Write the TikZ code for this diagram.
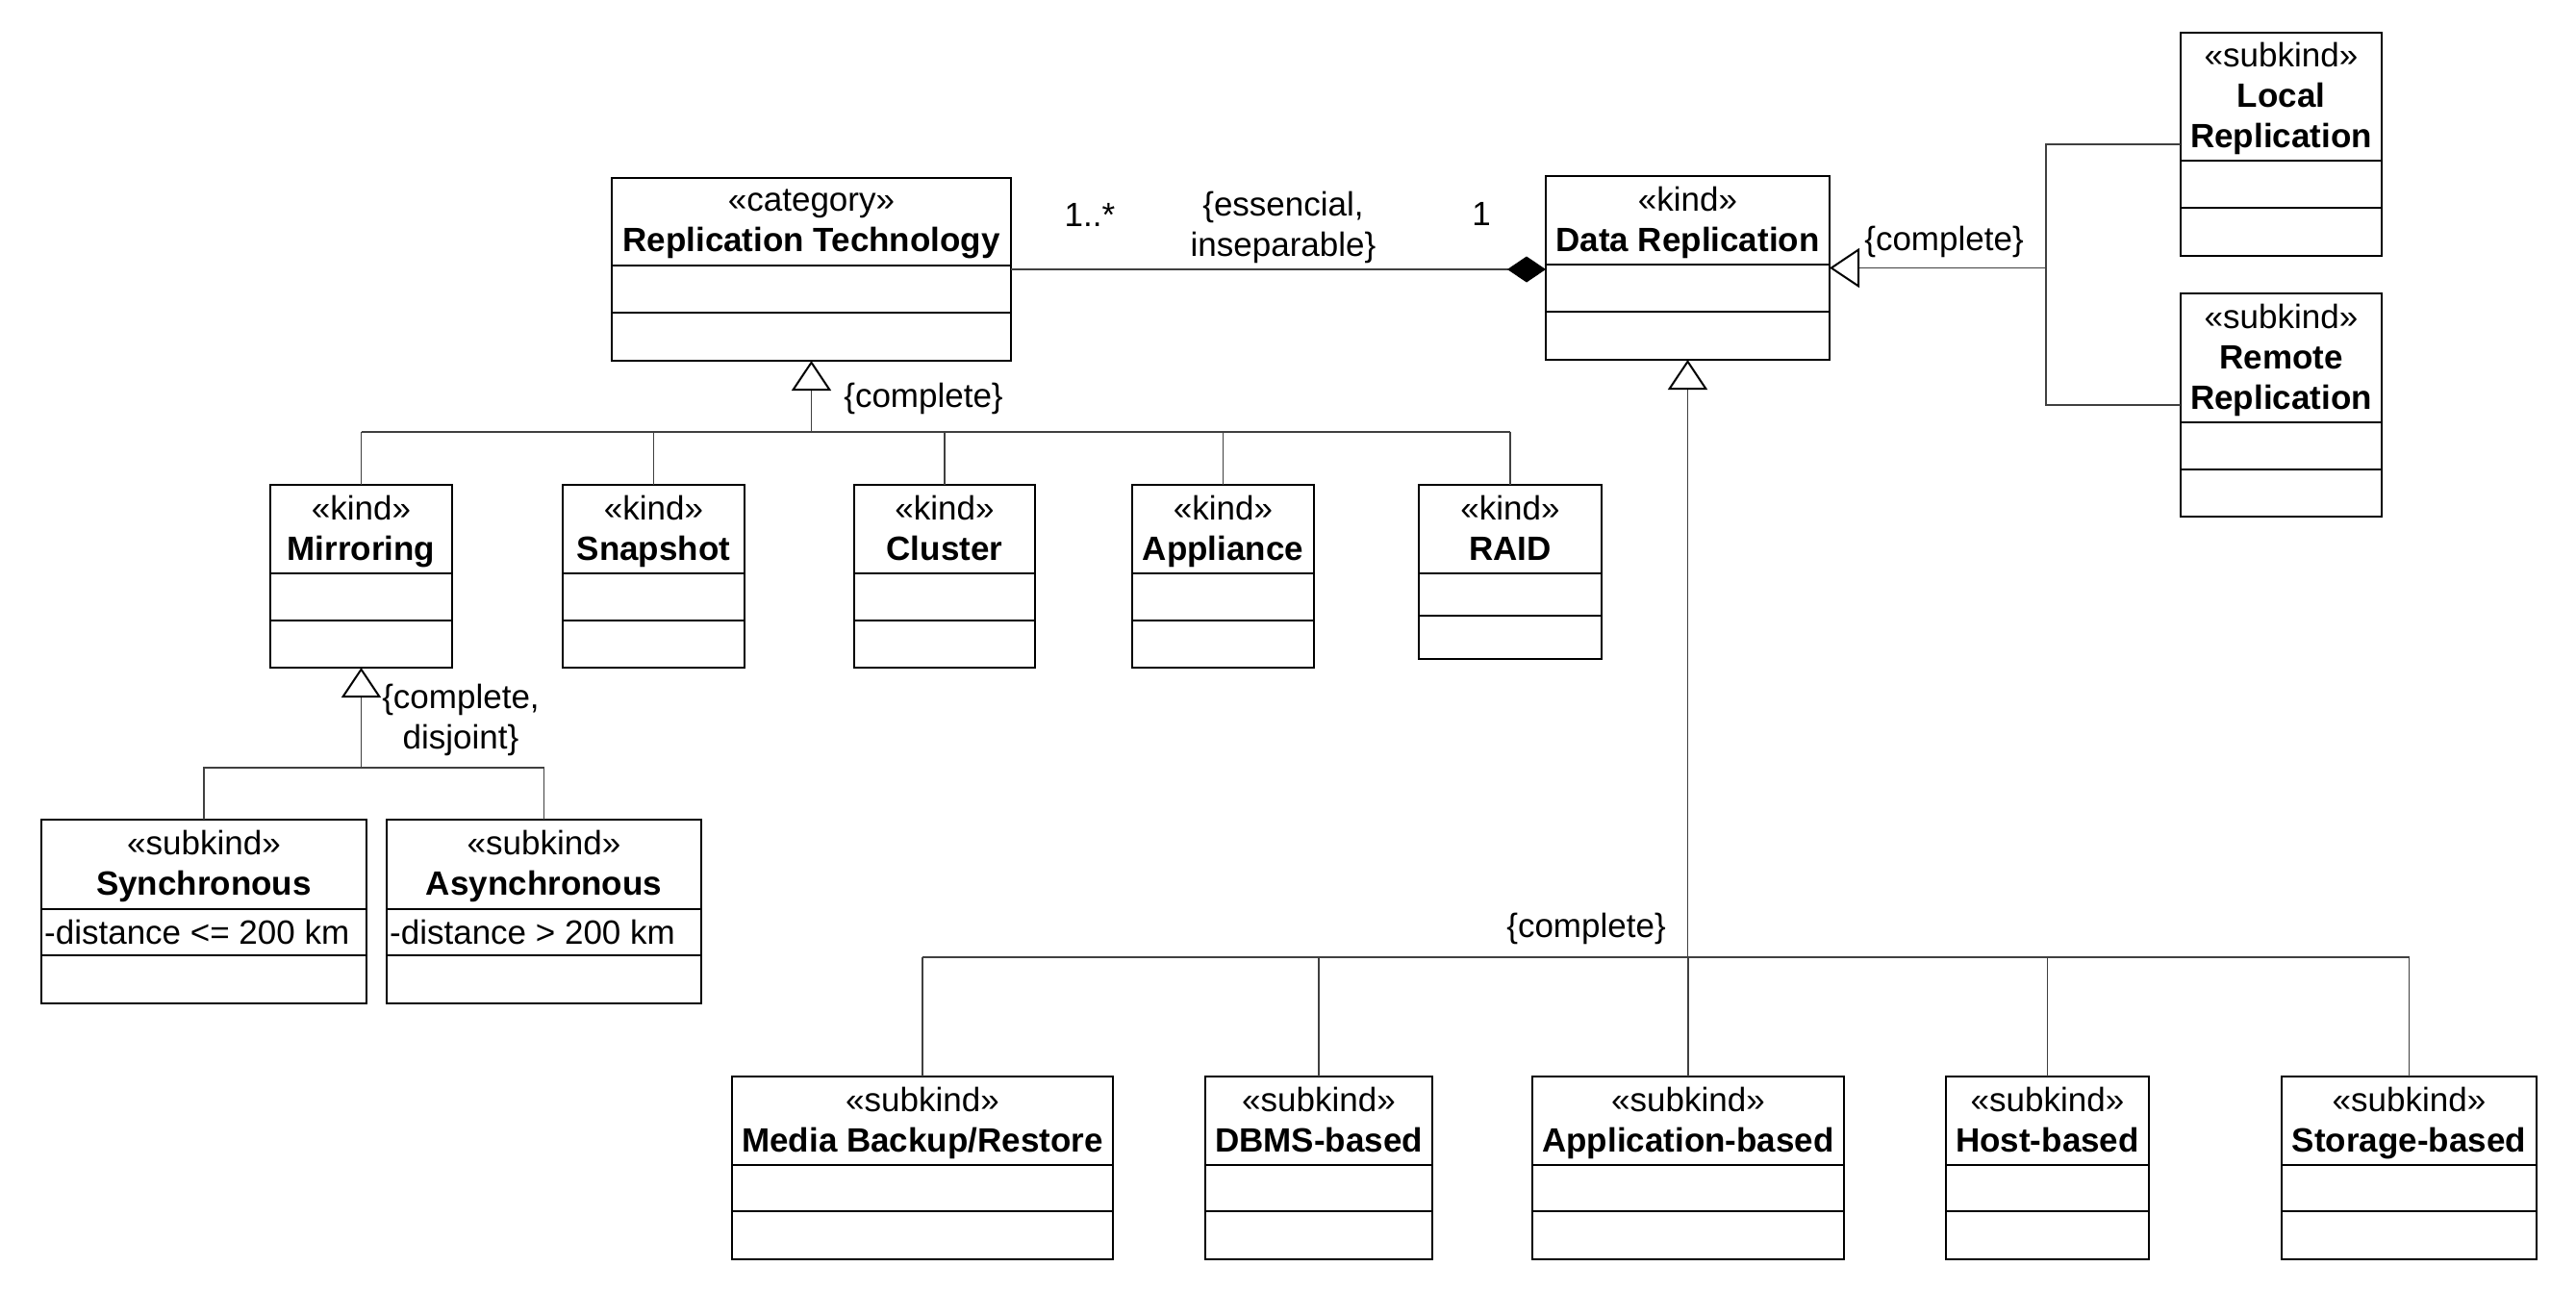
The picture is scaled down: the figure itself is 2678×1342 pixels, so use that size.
\documentclass[tikz,border=0pt]{standalone}
\usepackage{fontspec}
\setmainfont{Liberation Sans}
\usetikzlibrary{arrows.meta}
\tikzset{
  clsbox/.style={draw=black, line width=2.3pt, fill=white, inner sep=0pt, outer sep=0pt},
  clsline/.style={draw=black, line width=2.3pt},
  clstext/.style={align=center, inner sep=0pt, font=\fontsize{35}{42}\selectfont,
    execute at begin node=\strut, execute at end node=\strut},
  lbl/.style={align=center, inner sep=0pt, font=\fontsize{35}{42}\selectfont,
    execute at begin node=\strut, execute at end node=\strut},
  conn/.style={draw=black!75, line width=1.4pt},
  gen/.style={draw=black!75, line width=1.4pt, -{Triangle[open, length=31pt, width=41pt, line width=2pt, fill=white, color=black]}},
  comp/.style={draw=black!75, line width=1.6pt, -{Diamond[length=40pt, width=27pt, fill=black, color=black]}}
}
\newcommand\umlcls[8]{%
  \node[clsbox, minimum width=#4pt, minimum height=#5pt, anchor=north west] (#1) at (#2,#3) {};
  \draw[clsline] (#2,#6) -- ++(#4,0);
  \draw[clsline] (#2,#7) -- ++(#4,0);
  \pgfmathsetmacro\tcx{#2+#4/2}\pgfmathsetmacro\tcy{(#3+#6)/2+5}
  \node[clstext] (#1-t) at (\tcx,\tcy) {#8};
}
\begin{document}
\begin{tikzpicture}[x=1pt, y=-1pt]
\useasboundingbox[fill=white] (0,0) rectangle (2678,1342);

% classes
\umlcls{rt}{636}{185}{415}{190}{276}{325}{«category»\\\textbf{Replication Technology}}
\umlcls{dr}{1607}{183}{295}{191}{275}{324}{«kind»\\\textbf{Data Replication}}
\umlcls{mir}{281}{504}{189}{190}{596}{645}{«kind»\\\textbf{Mirroring}}
\umlcls{snap}{585}{504}{189}{190}{596}{645}{«kind»\\\textbf{Snapshot}}
\umlcls{clus}{888}{504}{188}{190}{596}{645}{«kind»\\\textbf{Cluster}}
\umlcls{appl}{1177}{504}{189}{190}{596}{645}{«kind»\\\textbf{Appliance}}
\umlcls{raid}{1475}{504}{190}{181}{596}{640}{«kind»\\\textbf{RAID}}
\umlcls{sync}{43}{852}{338}{191}{945}{993}{«subkind»\\\textbf{Synchronous}}
\umlcls{async}{402}{852}{327}{191}{945}{993}{«subkind»\\\textbf{Asynchronous}}
\umlcls{local}{2267}{34}{209}{232}{167}{216}{«subkind»\\\textbf{Local}\\\textbf{Replication}}
\umlcls{remote}{2267}{305}{209}{232}{439}{488}{«subkind»\\\textbf{Remote}\\\textbf{Replication}}
\umlcls{media}{761}{1119}{396}{190}{1211}{1259}{«subkind»\\\textbf{Media Backup/Restore}}
\umlcls{dbms}{1253}{1119}{236}{190}{1211}{1259}{«subkind»\\\textbf{DBMS-based}}
\umlcls{app}{1593}{1119}{324}{190}{1211}{1259}{«subkind»\\\textbf{Application-based}}
\umlcls{host}{2023}{1119}{211}{190}{1211}{1259}{«subkind»\\\textbf{Host-based}}
\umlcls{stor}{2372}{1119}{265}{190}{1211}{1259}{«subkind»\\\textbf{Storage-based}}

% attributes
\node[lbl, anchor=west] (sync-a) at (46,973) {-distance <= 200 km};
\node[lbl, anchor=west] (async-a) at (405,973) {-distance > 200 km};

% composition
\draw[comp] (rt.east) -- (rt.east -| dr.west);
\node[lbl] (m1) at (1133,227) {1..*};
\node[lbl] (m2) at (1334,239) {\{essencial,\\inseparable\}};
\node[lbl] (m3) at (1540,226) {1};

% generalization: Replication Technology
\coordinate (rtbar) at (843.5,449);
\draw[gen] (rtbar) -- (rt.south);
\draw[conn] (mir.north |- rtbar) -- (raid.north |- rtbar);
\foreach \c in {mir,snap,clus,appl,raid}{
  \draw[conn] (\c.north) -- (\c.north |- rtbar);
}
\node[lbl] (c1) at (960,415) {\{complete\}};

% generalization: Mirroring
\coordinate (mbar) at (375.5,798);
\draw[gen] (mbar) -- (mir.south);
\draw[conn] (sync.north) |- (async.north |- mbar) -- (async.north);
\node[lbl] (c2) at (479,751) {\{complete,\\disjoint\}};

% generalization: Data Replication (right)
\coordinate (drj) at (2127,278.5);
\draw[gen] (drj) -- (dr.east);
\draw[conn] (local.west) -| (drj) |- (remote.west);
\node[lbl] (c3) at (2021,252) {\{complete\}};

% generalization: Data Replication (bottom)
\coordinate (drbar) at (1754.5,995);
\draw[gen] (drbar) -- (dr.south);
\draw[conn] (media.north |- drbar) -- (stor.north |- drbar);
\foreach \c in {media,dbms,app,host,stor}{
  \draw[conn] (\c.north) -- (\c.north |- drbar);
}
\node[lbl] (c4) at (1649,966) {\{complete\}};
\end{tikzpicture}
\end{document}
